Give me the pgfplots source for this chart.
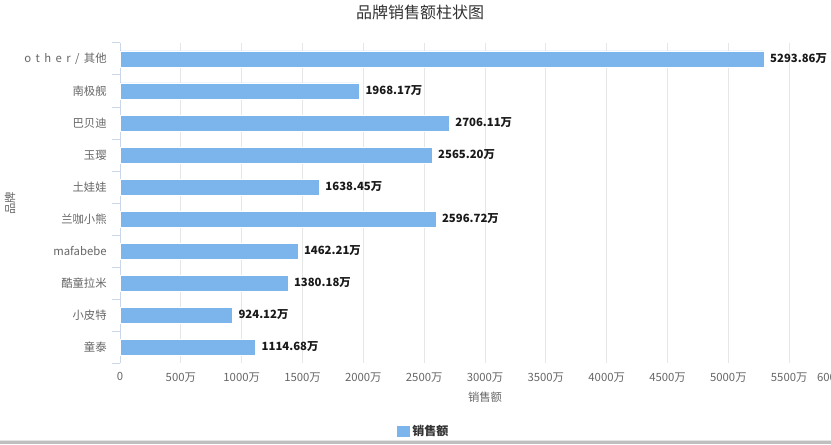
\documentclass[border=0pt]{standalone}
\usepackage{pgfplots}
\pgfplotsset{compat=1.18}
\usepackage{fontspec}
\setmainfont{Noto Sans CJK SC}
\definecolor{barc}{HTML}{7CB5EC}
\definecolor{gridc}{HTML}{E6E6E6}
\definecolor{axisc}{HTML}{CCD6EB}
\definecolor{textc}{HTML}{666666}
\definecolor{titlec}{HTML}{333333}
\newcommand{\gp}{\hspace{3.3pt}}
\begin{document}
\begin{tikzpicture}
\useasboundingbox (0,0) rectangle (623.25pt,333pt);
\clip (0,0) rectangle (623.25pt,333pt);
\fill[white] (0,0) rectangle (623.25pt,333pt);
\begin{axis}[
  at={(90pt,60.75pt)}, anchor=south west,
  scale only axis, width=547.5pt, height=240pt,
  xmin=0, xmax=6000, ymin=-0.5, ymax=9.5, y dir=reverse,
  xbar, bar width=12pt,
  axis lines*=left,
  x axis line style={draw=none},
  y axis line style={draw=axisc, line width=0.75pt},
  xmajorgrids, grid style={gridc, line width=0.75pt},
  xtick={0,500,...,6000},
  xticklabels={0,500万,1000万,1500万,2000万,2500万,3000万,3500万,4000万,4500万,5000万,5500万,\makebox[0pt][l]{\hspace{-24.75pt}6000万}},
  xtick style={draw=none},
  ytick={0,...,9},
  yticklabels={o\gp t\gp h\gp e\gp r\gp /\gp 其他,南极舰,巴贝迪,玉璎,土娃娃,兰咖小熊,mafabebe,酷童拉米,小皮特,童泰},
  minor ytick={-0.5,0.5,...,9.5},
  ytick pos=left, tick align=outside,
  major tick length=0pt, minor tick length=6pt,
  minor tick style={axisc, line width=0.75pt},
  ticklabel style={font=\fontsize{8.5}{10}\selectfont, text=textc},
  yticklabel style={xshift=-6.5pt},
  xticklabel style={yshift=-3.5pt},
  /pgf/number format/assume math mode=true,
  point meta=x,
  nodes near coords={\pgfmathprintnumber[fixed,precision=2,fixed zerofill,1000 sep={}]{\pgfplotspointmeta}万},
  nodes near coords style={font=\bfseries\fontsize{8.5}{10}\selectfont, text=black!90, anchor=west, xshift=1pt},
  legend style={at={(0.4164,-0.2125)}, anchor=center, draw=none, fill=none,
    font=\bfseries\fontsize{9}{10}\selectfont, text=titlec},
  legend image code/.code={\fill[barc] (0pt,-3.75pt) rectangle (9pt,3.75pt);},
]
\addplot[fill=barc, draw=white, line width=0.5pt] coordinates {
  (5293.86,0) (1968.17,1) (2706.11,2) (2565.20,3) (1638.45,4)
  (2596.72,5) (1462.21,6) (1380.18,7) (924.12,8) (1114.68,9)
};
\addlegendentry{销售额}
\end{axis}
\node[font=\fontsize{12}{14}\selectfont, text=titlec] at (315pt,324pt) {品牌销售额柱状图};
\node[font=\fontsize{8.5}{10}\selectfont, text=textc] at (363.75pt,35.25pt) {销售额};
\node[font=\fontsize{8.5}{10}\selectfont, text=textc, rotate=90] at (7.5pt,180.75pt) {品牌};
\fill[black!25] (0,0) rectangle (623.25pt,2.25pt);
\fill[black!10] (0,2.25pt) rectangle (623.25pt,3pt);
\end{tikzpicture}
\end{document}
